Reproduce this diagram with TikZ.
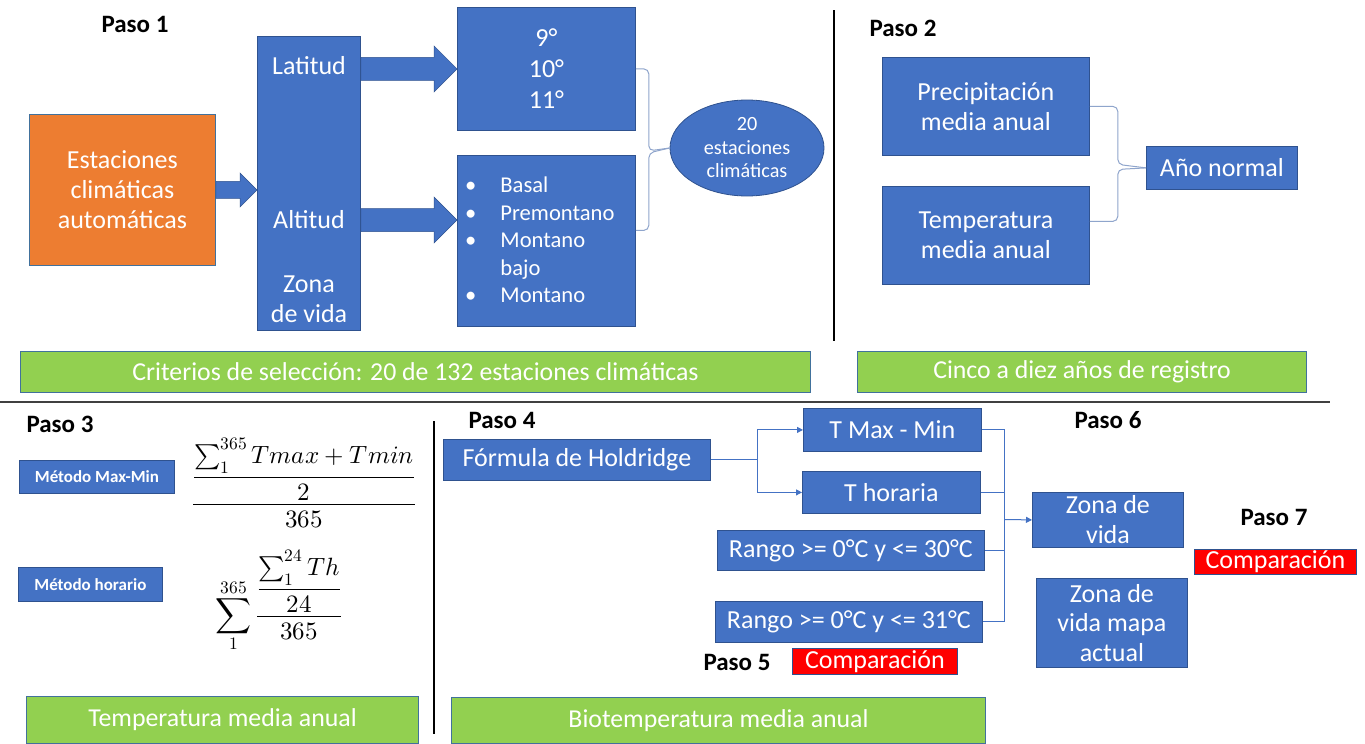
\documentclass[tikz,border=0pt]{standalone}
\usepackage{amsmath}
\usepackage{fontspec}
\usepackage{unicode-math}
\setmainfont{Carlito}
\setmathfont{Latin Modern Math}
\usetikzlibrary{calc,shapes.geometric,arrows.meta}
\definecolor{bfill}{HTML}{4472C4}
\definecolor{bdraw}{HTML}{2F528F}
\definecolor{ofill}{HTML}{ED7D31}
\definecolor{gfill}{HTML}{92D050}
\definecolor{gdraw}{HTML}{41719C}
\definecolor{brc}{HTML}{8FA5CC}
\definecolor{rfill}{HTML}{FF0000}
\newcommand\myfA{\fontsize{26}{30}\selectfont}
\newcommand\myfE{\fontsize{20.2}{23.5}\selectfont}
\newcommand\myfG{\fontsize{25.8}{30}\selectfont}
\newcommand\myfP{\bfseries\fontsize{25}{28}\selectfont}
\newcommand\myfM{\bfseries\fontsize{17}{20}\selectfont}
\begin{document}
\begin{tikzpicture}[x=1pt,y=-1pt,
  bx/.style={draw=bdraw,fill=bfill,line width=0.8pt,text=white,inner sep=0pt,anchor=north west,align=center,font=\myfA},
  gb/.style={draw=gdraw,fill=gfill,line width=1pt,text=white,inner sep=0pt,anchor=north west,align=center,font=\myfG},
  rb/.style={draw=bdraw,fill=rfill,line width=0.8pt,text=white,inner sep=0pt,anchor=north west,align=center,font=\myfA},
  txt/.style={text=white,inner sep=0pt,align=center,font=\myfA},
  paso/.style={inner sep=0pt,font=\myfP},
  barrow/.style={fill=bfill,draw=bdraw,line width=0.5pt},
  brc/.style={draw=brc,line width=1pt,rounded corners=5pt},
  conn/.style={draw=bfill,line width=1pt},
  tip/.style={-{Triangle[length=6pt,width=6pt]}},
  div/.style={draw=black,line width=1.5pt}]
\fill[white] (0,0) rectangle (1365,744);
\useasboundingbox (0,0) rectangle (1365,744);

% ---------- Paso 1
\node[paso] (p1) at (135,24) {Paso 1};
\node[bx,fill=ofill,draw=gdraw,minimum width=186pt,minimum height=151pt] (est) at (29,114) {Estaciones\\climáticas\\automáticas};
\node[bx,minimum width=103pt,minimum height=294pt] (col) at (257,36) {};
\node[txt] (latT) at (309,66) {Latitud};
\node[txt] (altT) at (309,220) {Altitud};
\node[txt] (zonT) at (309,299) {Zona\\de vida};
\node[bx,minimum width=178pt,minimum height=123pt,font=\fontsize{26}{31}\selectfont] (deg) at (457,7) {9°\\10°\\11°};
\node[bx,minimum width=178pt,minimum height=171pt] (bul) at (457,155) {};
\node[text=white,inner sep=0pt,anchor=west,font=\fontsize{22.6}{27.5}\selectfont] (bultxt) at (465,242)
  {\begin{tabular}{@{}l@{\hspace{24pt}}l@{}}•&Basal\\•&Premontano\\•&Montano\\&bajo\\•&Montano\end{tabular}};
\node[ellipse,draw=bdraw,fill=bfill,line width=0.8pt,minimum width=154pt,minimum height=96pt,inner sep=0pt,text=white,align=center,font=\myfE] (ell) at (747,148) {20\\estaciones\\climáticas};

\fill[barrow] let \p1=(est.east), \p2=(col.west) in
  (\x1,\y1-8.5pt) -- (\x2-17pt,\y1-8.5pt) -- (\x2-17pt,\y1-17pt) -- (\x2,\y1) -- (\x2-17pt,\y1+17pt) -- (\x2-17pt,\y1+8.5pt) -- (\x1,\y1+8.5pt) -- cycle;
\fill[barrow] let \p1=(col.east), \p2=(deg.west) in
  (\x1,\y2-11.5pt) -- (\x2-23pt,\y2-11.5pt) -- (\x2-23pt,\y2-23pt) -- (\x2,\y2) -- (\x2-23pt,\y2+23pt) -- (\x2-23pt,\y2+11.5pt) -- (\x1,\y2+11.5pt) -- cycle;
\fill[barrow] let \p1=(col.east), \p2=(bul.west), \p3=(altT) in
  (\x1,\y3-11.5pt) -- (\x2-23pt,\y3-11.5pt) -- (\x2-23pt,\y3-23pt) -- (\x2,\y3) -- (\x2-23pt,\y3+23pt) -- (\x2-23pt,\y3+11.5pt) -- (\x1,\y3+11.5pt) -- cycle;

\draw[brc] (deg.east) -- ++(13,0) -- ($(deg.east)+(13,82)$) -- (ell.west);
\draw[brc] ($(bul.east)+(0,-10.5)$) -- ++(13,0) -- ($(bul.east)+(13,-88)$) -- (ell.west);

% ---------- Paso 2
\node[paso] (p2) at (903,28) {Paso 2};
\node[bx,minimum width=207pt,minimum height=98pt] (pre) at (882,57) {Precipitación\\media anual};
\node[bx,minimum width=207pt,minimum height=98pt] (tem) at (882,186) {Temperatura\\media anual};
\node[bx,minimum width=151pt,minimum height=43pt] (ano) at (1146,146) {Año normal};
\draw[brc] (pre.east) -- ++(28,0) -- ($(pre.east)+(28,58)$) -- (ano.west);
\draw[brc] ($(tem.east)+(0,-14)$) -- ++(28,0) -- ($(tem.east)+(28,-66)$) -- (ano.west);

% ---------- banners and dividers
\node[gb,minimum width=790pt,minimum height=41pt] (crit) at (20,351) {Criterios de selección: 20 de 132 estaciones climáticas};
\node[gb,minimum width=449pt,minimum height=41pt] (cinco) at (857,351) {Cinco a diez años de registro};
\node[gb,minimum width=392pt,minimum height=47pt] (tma) at (26,696) {Temperatura media anual};
\node[gb,minimum width=534pt,minimum height=46pt] (bio) at (451,697) {Biotemperatura media anual};
\coordinate (d1a) at (834,10); \coordinate (d1b) at (834,341);
\draw[div] (d1a) -- (d1b);
\coordinate (sepA) at (0,402); \coordinate (sepB) at (1330,402);
\draw[draw=black!75,line width=2.2pt] (sepA) -- (sepB);
\coordinate (d2a) at (434,421); \coordinate (d2b) at (434,734);
\draw[div] (d2a) -- (d2b);

% ---------- Paso 3
\node[paso] (p3) at (60,424) {Paso 3};
\node[bx,font=\myfM,minimum width=155pt,minimum height=33pt] (mm) at (19,460) {Método Max-Min};
\node[bx,font=\myfM,minimum width=144pt,minimum height=34pt] (mh) at (18,567) {Método horario};
\node[inner sep=0pt,font=\fontsize{25}{30}\selectfont] (f1) at (304,483)
  {$\dfrac{\dfrac{\textstyle\sum_1^{365} Tmax+Tmin}{2}}{365}$};
\node[inner sep=0pt,font=\fontsize{25}{30}\selectfont] (f2) at (279,601)
  {$\displaystyle\sum_1^{365}\dfrac{\dfrac{\textstyle\sum_1^{24} Th}{24}}{365}$};

% ---------- Paso 4
\node[paso] (p4) at (502,420) {Paso 4};
\node[bx,minimum width=267pt,minimum height=41pt] (hold) at (443,439) {Fórmula de Holdridge};
\node[bx,minimum width=178pt,minimum height=43pt] (tmax) at (803,408) {T Max - Min};
\node[bx,minimum width=178pt,minimum height=42pt] (thor) at (802,471) {T horaria};
\node[bx,minimum width=267pt,minimum height=40pt] (r30) at (717,530) {Rango >= 0°C y <= 30°C};
\node[bx,minimum width=267pt,minimum height=41pt] (r31) at (715,601) {Rango >= 0°C y <= 31°C};
\draw[conn,tip] (hold.east) -- ++(47,0) |- (tmax.west);
\draw[conn,tip] (hold.east) -- ++(47,0) |- (thor.west);

% ---------- Paso 5
\node[paso] (p5) at (737,662) {Paso 5};
\node[rb,minimum width=165pt,minimum height=26pt] (cmp5) at (792,648) {Comparación};

% ---------- Paso 6
\node[paso] (p6) at (1108,420) {Paso 6};
\node[bx,minimum width=151pt,minimum height=55pt] (zv) at (1032,492) {Zona de\\vida};
\node[bx,minimum width=151pt,minimum height=89pt,font=\fontsize{26}{29.5}\selectfont] (zvm) at (1036,578) {Zona de\\vida mapa\\actual};
\coordinate (vx) at (1004,519.5);
\draw[conn] (tmax.east) -- (tmax.east -| vx) -- (r31.east -| vx) -- (r31.east);
\draw[conn] (thor.east) -- (thor.east -| vx);
\draw[conn] (r30.east) -- (r30.east -| vx);
\draw[conn,tip] (vx) -- (zv.west);

% ---------- Paso 7
\node[paso] (p7) at (1274,517) {Paso 7};
\node[rb,minimum width=162pt,minimum height=25pt] (cmp7) at (1194,549) {Comparación};
\end{tikzpicture}
\end{document}
